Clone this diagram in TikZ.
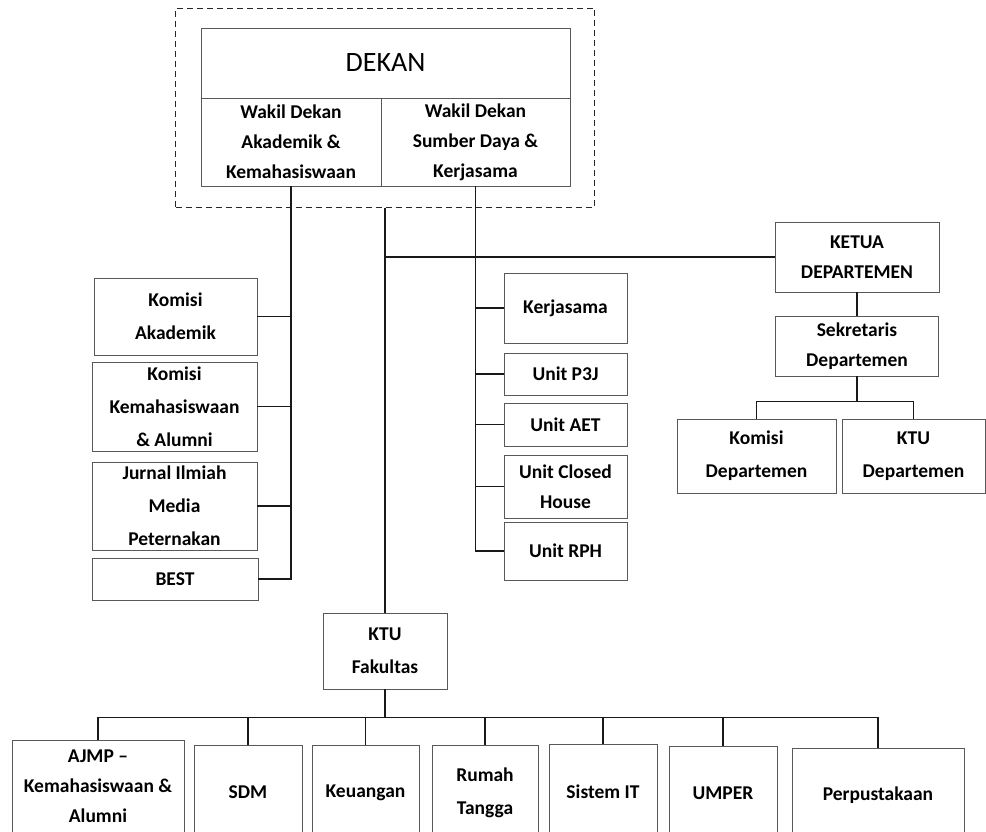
\documentclass[tikz,border=0pt]{standalone}
\usepackage{fontspec}
\setmainfont{Carlito}
\usetikzlibrary{positioning, calc}

\begin{document}
\begin{tikzpicture}[x=1pt,y=-1pt,
  box/.style={draw=black!65, line width=0.8pt, rectangle, align=center, inner sep=0pt,
    font=\bfseries\fontsize{19.5}{33}\selectfont},
  tight/.style={font=\bfseries\fontsize{19.5}{30}\selectfont},
  link/.style={draw=black!90, line width=1.4pt}]

\clip (0,0) rectangle (986,831);

\node[draw=black!85, line width=1pt, dash pattern=on 6pt off 4pt, minimum width=419pt, minimum height=199pt] (frame) at (385,107.5) {};
\node[box, minimum width=369pt, minimum height=70pt, font=\fontsize{28}{34}\selectfont] (dekan) at (385.5,63) {DEKAN};
\node[box, tight, minimum width=180pt, minimum height=88pt] (wd1) at (291,142) {Wakil Dekan\\Akademik \&\\Kemahasiswaan};
\node[box, tight, minimum width=189pt, minimum height=88pt] (wd2) at (475.5,142) {Wakil Dekan\\Sumber Daya \&\\Kerjasama};

% bawah wakil dekan 1
\node[box, minimum width=163pt, minimum height=77pt] (komak) at (175.5,316.5) {Komisi\\Akademik};
\node[box, minimum width=165pt, minimum height=89pt] (komkem) at (174.5,406.5) {Komisi\\Kemahasiswaan\\\& Alumni};
\node[box, minimum width=165pt, minimum height=88pt] (jurnal) at (174.5,506) {Jurnal Ilmiah\\Media\\Peternakan};
\node[box, minimum width=166pt, minimum height=42pt] (best) at (175,579) {BEST};

% bawah wakil dekan 2
\node[box, minimum width=123pt, minimum height=70pt] (kerja) at (565.5,308) {Kerjasama};
\node[box, minimum width=123pt, minimum height=42pt] (p3j) at (565.5,374) {Unit P3J};
\node[box, minimum width=123pt, minimum height=43pt] (aet) at (565.5,424.5) {Unit AET};
\node[box, tight, minimum width=123pt, minimum height=63pt] (closed) at (565.5,486.5) {Unit Closed\\House};
\node[box, minimum width=123pt, minimum height=58pt] (rph) at (565.5,551) {Unit RPH};

% departemen
\node[box, tight, minimum width=164pt, minimum height=70pt] (ketua) at (857,257) {KETUA\\DEPARTEMEN};
\node[box, tight, minimum width=163pt, minimum height=60pt] (sekre) at (857,346) {Sekretaris\\Departemen};
\node[box, minimum width=159pt, minimum height=74pt] (komdep) at (756.5,456) {Komisi\\Departemen};
\node[box, minimum width=143pt, minimum height=74pt] (ktudep) at (913.5,456) {KTU\\Departemen};

% KTU fakultas
\node[box, minimum width=124pt, minimum height=76pt] (ktufak) at (385,651) {KTU\\Fakultas};
\node[box, tight, minimum width=172pt, minimum height=92pt] (ajmp) at (98,786) {AJMP --\\Kemahasiswaan \&\\Alumni};
\node[box, minimum width=108pt, minimum height=95pt] (sdm) at (248,792.5) {SDM};
\node[box, minimum width=107pt, minimum height=95pt] (keu) at (365.5,792.5) {Keuangan};
\node[box, minimum width=106pt, minimum height=95pt] (rumah) at (485,793) {Rumah\\Tangga};
\node[box, minimum width=108pt, minimum height=95pt] (sistem) at (603,791.5) {Sistem IT};
\node[box, minimum width=108pt, minimum height=95pt] (umper) at (723,793.5) {UMPER};
\node[box, minimum width=172pt, minimum height=95pt] (perpus) at (878,795.5) {Perpustakaan};

\draw[link] (wd1.south) |- (best.east);
\foreach \n in {komak, komkem, jurnal}
  \draw[link] (\n.east) -- (\n.east -| wd1.south);

\draw[link] (wd2.south) |- (rph.west);
\foreach \n in {kerja, p3j, aet, closed}
  \draw[link] (\n.west) -- (\n.west -| wd2.south);

\draw[link] (frame.south) -- (ktufak.north);
\draw[link] (ketua.west) -- (ketua.west -| frame.south);
\draw[link] (ketua.south) -- (sekre.north);
\draw[link] (sekre.south) -- ++(0,25) coordinate (depbus);
\draw[link] (depbus -| komdep.north) -- (depbus -| ktudep.north);
\draw[link] (depbus -| komdep.north) -- (komdep.north);
\draw[link] (depbus -| ktudep.north) -- (ktudep.north);

\draw[link] (ktufak.south) -- ++(0,28) coordinate (bus);
\foreach \n in {ajmp, sdm, keu, rumah, sistem, umper, perpus}
  \draw[link] (bus) -| (\n.north);

\end{tikzpicture}
\end{document}
